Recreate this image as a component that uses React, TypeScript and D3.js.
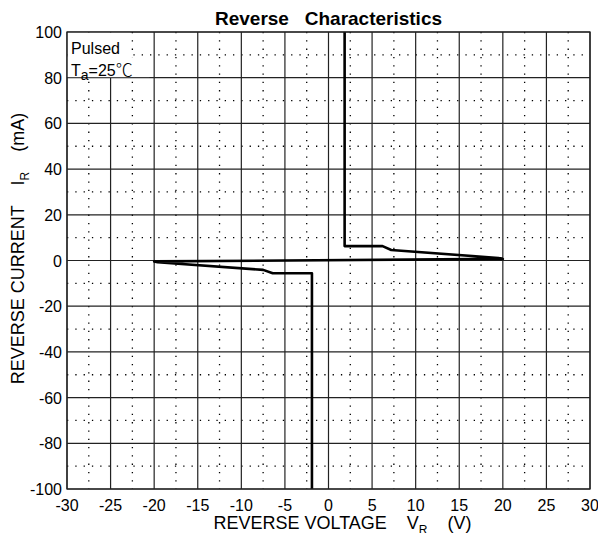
import React, { useEffect, useRef } from "react";
import * as d3 from "d3";

// chart values
const voltageTicks = [-30, -25, -20, -15, -10, -5, 0, 5, 10, 15, 20, 25, 30];
const currentTicks = [-100, -80, -60, -40, -20, 0, 20, 40, 60, 80, 100];
const voltageMinor = [-27.5, -22.5, -17.5, -12.5, -7.5, -2.5, 2.5, 7.5, 12.5, 17.5, 22.5, 27.5];
const currentMinor = [-90, -70, -50, -30, -10, 10, 30, 50, 70, 90];

// reverse characteristic curve (V, mA)
const curveV = [1.85, 1.85, 6.2, 7.2, 19.5, 20, -20, -19.6, -7.5, -6.4, -1.9, -1.9];
const curveI = [100, 6.3, 6.3, 4.6, 1.1, 0.7, -0.4, -0.8, -4.1, -5.6, -5.6, -100];

const FONT = "Arial, 'Liberation Sans', sans-serif";

const ReverseChart: React.FC = () => {
  const svgRef = useRef<SVGSVGElement>(null);

  useEffect(() => {
    if (!svgRef.current) return;
    const svg = d3.select(svgRef.current);
    svg.selectAll("*").remove();

    const width = 606;
    const height = 541;
    const margin = { top: 32, right: 16, bottom: 52, left: 67 };
    const innerWidth = width - margin.left - margin.right;
    const innerHeight = height - margin.top - margin.bottom;

    svg.attr("width", width).attr("height", height);

    const g = svg
      .append("g")
      .attr("transform", `translate(${margin.left}, ${margin.top})`);

    const x = d3.scaleLinear().domain([-30, 30]).range([0, innerWidth]);
    const y = d3.scaleLinear().domain([-100, 100]).range([innerHeight, 0]);

    // dotted minor grid
    g.selectAll(".minor-x")
      .data(voltageMinor)
      .enter()
      .append("line")
      .attr("x1", (d) => x(d))
      .attr("x2", (d) => x(d))
      .attr("y1", 0)
      .attr("y2", innerHeight)
      .attr("stroke", "#000")
      .attr("stroke-width", 1.3)
      .attr("stroke-dasharray", "1.3,7");

    g.selectAll(".minor-y")
      .data(currentMinor)
      .enter()
      .append("line")
      .attr("x1", 0)
      .attr("x2", innerWidth)
      .attr("y1", (d) => y(d))
      .attr("y2", (d) => y(d))
      .attr("stroke", "#000")
      .attr("stroke-width", 1.3)
      .attr("stroke-dasharray", "1.3,7");

    // solid major grid
    g.selectAll(".major-x")
      .data(voltageTicks)
      .enter()
      .append("line")
      .attr("x1", (d) => x(d))
      .attr("x2", (d) => x(d))
      .attr("y1", 0)
      .attr("y2", innerHeight)
      .attr("stroke", "#222")
      .attr("stroke-width", 1.2);

    g.selectAll(".major-y")
      .data(currentTicks)
      .enter()
      .append("line")
      .attr("x1", 0)
      .attr("x2", innerWidth)
      .attr("y1", (d) => y(d))
      .attr("y2", (d) => y(d))
      .attr("stroke", "#222")
      .attr("stroke-width", 1.2);

    // legend box covers the grid in the corner
    g.append("rect")
      .attr("x", x(-30) + 0.6)
      .attr("y", y(100) + 0.6)
      .attr("width", x(-22.8) - x(-30))
      .attr("height", y(80) - y(100) - 1.2)
      .attr("fill", "#fff");
    g.append("rect")
      .attr("x", x(-30) + 0.6)
      .attr("y", y(89))
      .attr("width", x(-20.6) - x(-30))
      .attr("height", y(80) - y(89) - 0.6)
      .attr("fill", "#fff");

    g.append("text")
      .attr("x", 4)
      .attr("y", 22)
      .style("font-family", FONT)
      .style("font-size", "16px")
      .text("Pulsed");
    const ta = g
      .append("text")
      .attr("x", 4)
      .attr("y", 44)
      .style("font-family", FONT)
      .style("font-size", "16px");
    ta.append("tspan").text("T");
    ta.append("tspan").attr("dy", 4).style("font-size", "14px").text("a");
    ta.append("tspan").attr("dy", -4).text("=25");
    ta.append("tspan")
      .style("font-family", "'Noto Sans CJK SC', sans-serif")
      .style("font-size", "17px")
      .style("font-weight", "300")
      .text("℃");

    // curve
    const pts: [number, number][] = curveV.map((v, i) => [v, curveI[i]]);
    const line = d3
      .line<[number, number]>()
      .x((d) => x(d[0]))
      .y((d) => y(d[1]));
    g.append("path")
      .attr("d", line(pts) || "")
      .attr("fill", "none")
      .attr("stroke", "#000")
      .attr("stroke-width", 2.6)
      .attr("stroke-linejoin", "round");

    // frame
    g.append("rect")
      .attr("width", innerWidth)
      .attr("height", innerHeight)
      .attr("fill", "none")
      .attr("stroke", "#222")
      .attr("stroke-width", 1.3);

    // tick labels
    g.selectAll(".xl")
      .data(voltageTicks)
      .enter()
      .append("text")
      .attr("x", (d) => x(d))
      .attr("y", innerHeight + 22)
      .attr("text-anchor", "middle")
      .style("font-family", FONT)
      .style("font-size", "16px")
      .text((d) => d);

    g.selectAll(".yl")
      .data(currentTicks)
      .enter()
      .append("text")
      .attr("x", -5)
      .attr("y", (d) => y(d) + 6)
      .attr("text-anchor", "end")
      .style("font-family", FONT)
      .style("font-size", "16px")
      .text((d) => d);

    // title
    svg
      .append("text")
      .attr("x", margin.left + innerWidth / 2)
      .attr("y", 25)
      .attr("text-anchor", "middle")
      .style("font-family", FONT)
      .style("font-size", "19px")
      .style("font-weight", "bold")
      .style("white-space", "pre")
      .text("Reverse   Characteristics");

    // x axis title
    const xt = svg
      .append("text")
      .attr("x", margin.left + innerWidth / 2 + 14)
      .attr("y", 529)
      .attr("text-anchor", "middle")
      .style("font-family", FONT)
      .style("font-size", "18px")
      .style("white-space", "pre");
    xt.append("tspan").text("REVERSE VOLTAGE    V");
    xt.append("tspan").attr("dy", 5).style("font-size", "12px").text("R");
    xt.append("tspan").attr("dy", -5).text("    (V)");

    // y axis title
    const yt = svg
      .append("text")
      .attr("transform", `translate(24, ${margin.top + innerHeight / 2 - 12}) rotate(-90)`)
      .attr("text-anchor", "middle")
      .style("font-family", FONT)
      .style("font-size", "18px")
      .style("white-space", "pre");
    yt.append("tspan").text("REVERSE CURRENT    I");
    yt.append("tspan").attr("dy", 5).style("font-size", "12px").text("R");
    yt.append("tspan").attr("dy", -5).text("    (mA)");
  }, []);

  return <svg ref={svgRef} style={{ display: "block" }}></svg>;
};

export default function App() {
  return (
    <div style={{ margin: -8 }}>
      <ReverseChart />
    </div>
  );
}
